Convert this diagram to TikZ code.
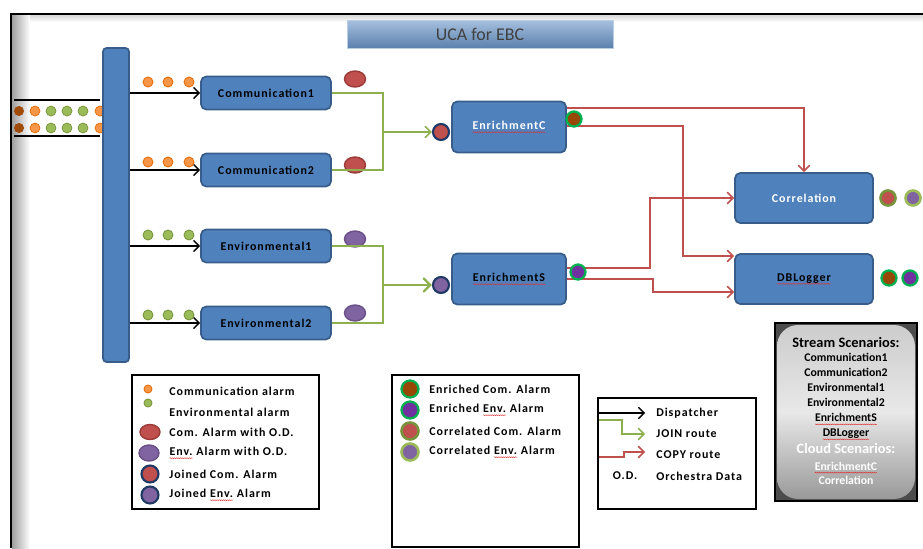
\documentclass[tikz,border=0pt]{standalone}
\usepackage{fontspec}
\setmainfont{Carlito}
\newfontfamily\lblfont[LetterSpace=8]{Carlito}
\usepackage{tikz}
\usetikzlibrary{arrows,shapes.geometric,calc,decorations.pathmorphing}

\definecolor{boxblue}{HTML}{4F81BD}
\definecolor{boxedge}{HTML}{385D8A}
\definecolor{comred}{HTML}{C0504D}
\definecolor{comedge}{HTML}{9B3B38}
\definecolor{envpurple}{HTML}{8064A2}
\definecolor{envedge}{HTML}{6A5087}
\definecolor{navy}{HTML}{1F3864}
\definecolor{enbrown}{HTML}{974706}
\definecolor{enviolet}{HTML}{7030A0}
\definecolor{brightgreen}{HTML}{00B050}
\definecolor{olive}{HTML}{77933C}
\definecolor{lightgreen}{HTML}{9BBB59}
\definecolor{dotorange}{HTML}{F79646}
\definecolor{dotedge}{HTML}{E46C0A}
\definecolor{joingreen}{HTML}{8DB04F}
\definecolor{spellred}{HTML}{E03030}

% red wavy underline of a misspelt word
\newcommand\spellerr[1]{\tikz[baseline=(sw.base),x=1cm,y=1cm,sharp corners]{%
  \node[inner sep=0pt,outer sep=0pt,minimum size=0pt] (sw) {#1};
  \draw[spellred,sharp corners,line width=0.25pt,decorate,decoration={snake,amplitude=0.25pt,segment length=1.2pt}]
    ([yshift=-1.5pt]sw.base west) -- ([yshift=-1.5pt]sw.base east);}}

\begin{document}
\begin{tikzpicture}[x=0.02cm,y=-0.02cm,
    stage/.style={draw=boxedge,line width=1pt,fill=boxblue,rounded corners=3pt,
      minimum width=2.6cm,minimum height=0.66cm,inner sep=0pt,
      font=\lblfont\bfseries\fontsize{6.8}{8}\selectfont},
    bigstage/.style={stage,minimum width=2.76cm,minimum height=1cm},
    sdot/.style={circle,inner sep=0pt,minimum size=0.2cm,line width=0.5pt},
    odot/.style={sdot,fill=dotorange,draw=dotedge},
    gdot/.style={sdot,fill=lightgreen,draw=olive},
    odcom/.style={ellipse,draw=comedge,fill=comred,line width=0.8pt,inner sep=0pt,
      minimum width=0.42cm,minimum height=0.32cm},
    odenv/.style={odcom,draw=envedge,fill=envpurple},
    joined/.style={circle,draw=navy,line width=1.2pt,inner sep=0pt,minimum size=0.32cm},
    enriched/.style={circle,draw=brightgreen,line width=1.3pt,inner sep=0pt,minimum size=0.3cm},
    correl/.style={circle,line width=1.5pt,inner sep=0pt,minimum size=0.3cm},
    dispatch/.style={draw=black,line width=0.8pt,-angle 90},
    joinroute/.style={draw=joingreen,line width=0.9pt},
    copyroute/.style={draw=comred,line width=0.9pt},
    legend/.style={draw=black,line width=1.2pt},
    lgtext/.style={anchor=west,inner sep=0pt,font=\lblfont\bfseries\fontsize{6.8}{8}\selectfont}]

\useasboundingbox (0,0) rectangle (923,548);

% frame and its shadow
\shade[left color=gray!75,right color=white] (12,15) rectangle (30,548);
\shade[top color=gray!30,bottom color=white] (30,15) rectangle (923,22);
\draw[line width=1.5pt] (11,548) -- (11,14) -- (923,14);

% title
\node[draw=boxblue!40,top color=boxblue!50,bottom color=boxblue!75!gray,minimum width=5.32cm,
  minimum height=0.56cm,inner sep=0pt,text=black!75,font=\fontsize{10.2}{12}\selectfont] (title) at (480,34) {UCA for EBC};

% input stream
\draw[line width=0.8pt] (14,100) -- (100,100);
\draw[line width=0.8pt] (14,136) -- (100,136);
\foreach \y in {111,128} {
  \fill[dotedge!70!black] (19,\y) circle (0.1cm);
  \filldraw[fill=dotorange,draw=dotedge] (35,\y) circle (0.1cm);
  \foreach \x in {51,67,83}
    \filldraw[fill=lightgreen,draw=olive] (\x,\y) circle (0.1cm);
  \filldraw[fill=dotorange,draw=dotedge] (100,\y) circle (0.1cm);
}

% dispatcher bar
\node[draw=boxedge,line width=1pt,fill=boxblue,rounded corners=2pt,minimum width=0.52cm,
  minimum height=6.28cm,inner sep=0pt] (disp) at (116,205) {};

% stream scenarios
\node[stage] (com1) at (266,93) {Communication1};
\node[stage] (com2) at (266,170) {Communication2};
\node[stage] (env1) at (266,246) {Environmental1};
\node[stage] (env2) at (266,323) {Environmental2};

\foreach \n in {com1,com2,env1,env2}
  \draw[dispatch] (disp.east |- \n.west) -- (\n.west);

\foreach \x/\i in {148/1,168/2,189/3} {
  \node[odot] (dc1\i) at (\x,82) {};
  \node[odot] (dc2\i) at (\x,162) {};
  \node[gdot] (de1\i) at (\x,235) {};
  \node[gdot] (de2\i) at (\x,315) {};
}

\node[odcom] (odc1) at (355,79) {};
\node[odcom] (odc2) at (355,165) {};
\node[odenv] (ode1) at (355,239) {};
\node[odenv] (ode2) at (355,313) {};

% join routes
\coordinate (jc) at (383,132);
\coordinate (je) at (383,285);
\node[joined,fill=comred] (jaC) at (441,132) {};
\node[joined,fill=envpurple] (jaE) at (441,285) {};
\draw[joinroute] (com1.east) -| (jc) |- (com2.east);
\draw[joinroute,-angle 90] (jc) -- (jaC.west);
\draw[joinroute,line width=1.3pt] (env1.east) -| (je) |- (env2.east);
\draw[joinroute,line width=1.3pt,-angle 90] (je) -- (jaE.west);

% enrichment, correlation, logging
\node[stage,minimum width=2.28cm,minimum height=1.02cm,text=white] (enC) at (509,127) {\spellerr{EnrichmentC}};
\node[stage,minimum width=2.28cm,minimum height=1.02cm] (enS) at (509,279) {\spellerr{EnrichmentS}};
\node[bigstage,text=white] (corr) at (804,198) {Correlation};
\node[bigstage] (dbl) at (804,279) {\spellerr{DBLogger}};

% copy routes
\draw[copyroute,-angle 90] ($(enC.east)+(0,-19)$) -| (corr.north);
\draw[copyroute,-angle 90] ($(enC.east)+(0,-1)$) -| (683,200) |- ($(dbl.west)+(0,-23)$);
\draw[copyroute,-angle 90] ($(enS.east)+(0,-11)$) -| (650,230) |- (corr.west);
\draw[copyroute,-angle 90] (enS.east) -| (653,285) |- ($(dbl.west)+(0,13)$);

\node[enriched,fill=enbrown] (enCa) at (574,119) {};
\node[enriched,fill=enviolet] (enSa) at (578,272) {};

\node[correl,draw=olive,fill=comred] (coa1) at (888,198) {};
\node[correl,draw=lightgreen,fill=envpurple] (coa2) at (913,198) {};
\node[enriched,fill=enbrown] (dba1) at (889,278) {};
\node[enriched,fill=enviolet] (dba2) at (910,278) {};

% scenario list
\fill[black!70] (775,323) rectangle (917,501);
\shade[rounded corners=12pt,top color=gray!40,bottom color=gray!80,middle color=gray!18]
  (777,325) rectangle (915,499);
\draw[line width=1.3pt] (775,323) rectangle (917,501);
\node[align=center,inner sep=0pt,font=\bfseries\fontsize{6.7}{8.5}\selectfont] (scn) at (846,411)
  {{\fontsize{8.2}{8.5}\selectfont Stream Scenarios:}\\
   Communication1\\ Communication2\\ Environmental1\\ Environmental2\\
   \spellerr{EnrichmentS}\\ \spellerr{DBLogger}\\[1pt]
   {\color{white}\fontsize{8.2}{8.5}\selectfont Cloud Scenarios:}\\[1pt]
   {\color{white}\spellerr{EnrichmentC}}\\ {\color{white}Correlation}};

% legend: alarms
\draw[legend] (132,375) rectangle (319,509);
\node[odot,minimum size=0.16cm] (l1a) at (148,389) {};
\node[gdot,minimum size=0.16cm] (l1b) at (148,403) {};
\node[odcom,minimum width=0.4cm,minimum height=0.3cm] (l1c) at (150,432) {};
\node[odenv,minimum width=0.4cm,minimum height=0.32cm] (l1d) at (149,453) {};
\node[joined,fill=comred,minimum size=0.34cm] (l1e) at (150,474) {};
\node[joined,fill=envpurple,minimum size=0.34cm] (l1f) at (150,495) {};
\node[lgtext] (t1a) at (169,391) {Communication\ alarm};
\node[lgtext] (t1b) at (169,412) {Environmental\ alarm};
\node[lgtext] (t1c) at (169,432) {Com. Alarm with O.D.};
\node[lgtext] (t1d) at (169,453) {\spellerr{Env.} Alarm with O.D.};
\node[lgtext] (t1e) at (169,474) {Joined Com. Alarm};
\node[lgtext] (t1f) at (169,495) {Joined \spellerr{Env.} Alarm};

% legend: processed alarms
\draw[legend] (392,375) rectangle (579,547);
\node[enriched,fill=enbrown,minimum size=0.34cm] (l2a) at (410,389) {};
\node[enriched,fill=enviolet,minimum size=0.34cm] (l2b) at (410,410) {};
\node[correl,draw=olive,fill=comred,minimum size=0.34cm] (l2c) at (410,431) {};
\node[correl,draw=lightgreen,fill=envpurple,minimum size=0.34cm] (l2d) at (410,452) {};
\node[lgtext] (t2a) at (429,389) {Enriched Com. Alarm};
\node[lgtext] (t2b) at (429,410) {Enriched \spellerr{Env.} Alarm};
\node[lgtext] (t2c) at (429,431) {Correlated Com. Alarm};
\node[lgtext] (t2d) at (429,452) {Correlated \spellerr{Env.} Alarm};

% legend: routes
\draw[legend] (598,398) rectangle (756,509);
\node[lgtext] (t3a) at (656,413) {Dispatcher};
\node[lgtext] (t3b) at (656,434) {JOIN route};
\node[lgtext] (t3c) at (656,455) {COPY route};
\node[lgtext] (t3d) at (656,476) {Orchestra Data};
\node[lgtext,anchor=center] (t3e) at (625,476) {O.D.};
\draw[dispatch] (599,413) -- (645,413);
\draw[joinroute,-angle 90] (599,420) -| (622,434) -- (645,434);
\draw[copyroute,-angle 90] (599,457) -| (624,452) -- (645,452);

\end{tikzpicture}
\end{document}
